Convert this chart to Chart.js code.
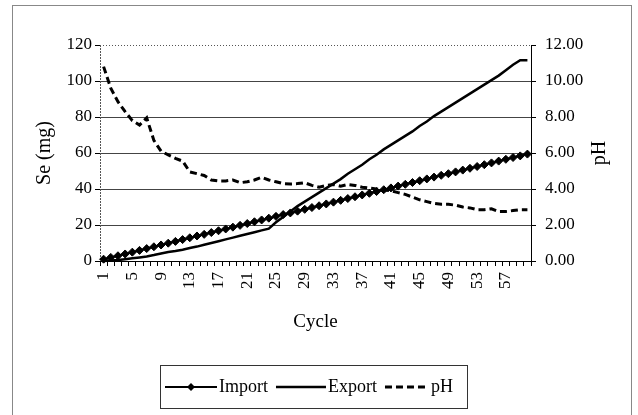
<!DOCTYPE html>
<html>
<head>
<meta charset="utf-8">
<script src="https://cdn.jsdelivr.net/npm/chart.js@4/dist/chart.umd.min.js"></script>
<style>
  html, body { margin: 0; padding: 0; background: #fff; }
  #wrap { width: 638px; height: 415px; }
</style>
</head>
<body>
<div id="wrap"><canvas id="seChart" width="638" height="415"></canvas></div>
<script>
const cycles = [1, 2, 3, 4, 5, 6, 7, 8, 9, 10, 11, 12, 13, 14, 15, 16, 17, 18, 19, 20,
    21, 22, 23, 24, 25, 26, 27, 28, 29, 30, 31, 32, 33, 34, 35, 36, 37, 38, 39, 40,
    41, 42, 43, 44, 45, 46, 47, 48, 49, 50, 51, 52, 53, 54, 55, 56, 57, 58, 59, 60];

const importSe = [1.0, 2.0, 2.9, 3.9, 4.9, 5.9, 6.9, 7.9, 8.9, 9.9,
    10.9, 11.9, 12.9, 13.9, 14.8, 15.8, 16.8, 17.8, 18.8, 19.8,
    20.8, 21.8, 22.8, 23.8, 24.8, 25.8, 26.7, 27.7, 28.7, 29.7,
    30.7, 31.7, 32.7, 33.7, 34.7, 35.7, 36.7, 37.6, 38.6, 39.6,
    40.6, 41.6, 42.6, 43.6, 44.6, 45.6, 46.6, 47.6, 48.5, 49.5,
    50.5, 51.5, 52.5, 53.5, 54.5, 55.5, 56.5, 57.5, 58.4, 59.4];

const exportSe = [0, 0.3, 0.5, 1, 1.5, 2, 2.5, 3.3, 4.2, 5,
    5.5, 6.3, 7.2, 8, 9, 10, 11, 12, 13, 14,
    15, 16, 17, 18, 21.5, 24.5, 27.5, 30.5, 33, 35.5,
    38, 40.5, 43, 45.5, 48.5, 51, 53.5, 56.5, 59, 62,
    64.5, 67, 69.5, 72, 75, 77.5, 80.5, 83, 85.5, 88,
    90.5, 93, 95.5, 98, 100.5, 103, 106, 109, 111.5, 111.5];

const phValues = [10.8, 9.6, 8.85, 8.3, 7.8, 7.55, 7.95, 6.7, 6.1, 5.9,
    5.7, 5.55, 4.95, 4.85, 4.75, 4.5, 4.45, 4.45, 4.5, 4.35,
    4.4, 4.5, 4.65, 4.5, 4.4, 4.3, 4.28, 4.3, 4.35, 4.2,
    4.1, 4.2, 4.25, 4.15, 4.25, 4.2, 4.1, 4.05, 4.0, 3.95,
    3.9, 3.8, 3.7, 3.55, 3.4, 3.3, 3.2, 3.15, 3.15, 3.1,
    3.0, 2.95, 2.85, 2.85, 2.9, 2.75, 2.75, 2.8, 2.85, 2.85];

const seTicks = [0, 20, 40, 60, 80, 100, 120];
const phTicks = [0, 2, 4, 6, 8, 10, 12];

const FONT = 'Liberation Serif';

// outer frame, dotted plot edges, right title and the boxed legend
const decorations = {
    id: 'decorations',
    beforeDraw(chart) {
        const ctx = chart.ctx;
        ctx.save();
        ctx.strokeStyle = '#888';
        ctx.lineWidth = 1;
        ctx.strokeRect(12.5, 5.5, 619, 430);
        ctx.restore();
    },
    beforeDatasetsDraw(chart) {
        const ctx = chart.ctx;
        const area = chart.chartArea;
        const top = Math.round(area.top) + 0.5;
        const left = Math.round(area.left) + 0.5;
        ctx.save();
        ctx.strokeStyle = '#555';
        ctx.lineWidth = 1;
        ctx.setLineDash([1, 2]);
        ctx.beginPath();
        ctx.moveTo(area.left, top);
        ctx.lineTo(area.right, top);
        ctx.stroke();
        ctx.setLineDash([2, 1]);
        ctx.beginPath();
        ctx.moveTo(left, area.top);
        ctx.lineTo(left, area.bottom);
        ctx.stroke();
        ctx.restore();
    },
    afterDraw(chart) {
        const ctx = chart.ctx;
        const area = chart.chartArea;
        ctx.save();
        // right axis title, reading bottom to top
        const yr = chart.scales.yR;
        ctx.fillStyle = '#000';
        ctx.font = '20px "' + FONT + '"';
        ctx.textAlign = 'center';
        ctx.textBaseline = 'middle';
        ctx.translate(yr.right - 32, (area.top + area.bottom) / 2);
        ctx.rotate(-Math.PI / 2);
        ctx.fillText('pH', 0, 0);
        ctx.restore();

        // legend
        ctx.save();
        ctx.strokeStyle = '#333';
        ctx.lineWidth = 1;
        ctx.strokeRect(160.5, 365.5, 307, 43);
        ctx.font = '18px "' + FONT + '"';
        ctx.fillStyle = '#000';
        ctx.textBaseline = 'middle';
        const ly = 387;
        const sampleWidths = [52, 50, 44];
        let x = 165;
        chart.data.datasets.forEach((ds, i) => {
            const w = sampleWidths[i];
            ctx.strokeStyle = ds.borderColor;
            ctx.lineWidth = ds.borderWidth;
            ctx.setLineDash(ds.borderDash || []);
            ctx.beginPath();
            ctx.moveTo(x, ly);
            ctx.lineTo(x + w, ly);
            ctx.stroke();
            ctx.setLineDash([]);
            if (ds.pointRadius > 0) {
                const r = ds.pointRadius;
                ctx.fillStyle = ds.pointBackgroundColor;
                ctx.beginPath();
                ctx.moveTo(x + w / 2, ly - r);
                ctx.lineTo(x + w / 2 + r, ly);
                ctx.lineTo(x + w / 2, ly + r);
                ctx.lineTo(x + w / 2 - r, ly);
                ctx.closePath();
                ctx.fill();
            }
            ctx.fillStyle = '#000';
            ctx.fillText(ds.label, x + w + 2, ly);
            x += w + 2 + ctx.measureText(ds.label).width + 8;
        });
        ctx.restore();
    }
};

function initializeChart() {
    const ctx = document.getElementById('seChart').getContext('2d');

    const data = {
        labels: cycles,
        datasets: [{
            label: 'Import',
            data: importSe,
            yAxisID: 'y',
            borderColor: '#000',
            borderWidth: 2,
            pointStyle: 'rectRot',
            pointRadius: 4,
            pointBackgroundColor: '#000',
            pointBorderColor: '#000',
            pointBorderWidth: 1,
            tension: 0,
            clip: false
        }, {
            label: 'Export',
            data: exportSe,
            yAxisID: 'y',
            borderColor: '#000',
            borderWidth: 2.5,
            pointRadius: 0,
            tension: 0,
            clip: false
        }, {
            label: 'pH',
            data: phValues,
            yAxisID: 'yR',
            borderColor: '#000',
            borderWidth: 3,
            borderDash: [7, 4],
            pointRadius: 0,
            tension: 0,
            clip: false
        }]
    };

    const config = {
        type: 'line',
        data: data,
        options: {
            responsive: false,
            animation: false,
            devicePixelRatio: 1,
            layout: {
                padding: { left: 13, right: 6, top: 45, bottom: 50 }
            },
            plugins: {
                legend: { display: false },
                tooltip: { enabled: false }
            },
            scales: {
                x: {
                    type: 'category',
                    offset: true,
                    afterFit: function (scale) { scale.height = 104; },
                    grid: {
                        offset: true,
                        drawOnChartArea: false,
                        tickLength: 5,
                        tickColor: '#000'
                    },
                    border: { color: '#000', width: 1 },
                    ticks: {
                        autoSkip: false,
                        minRotation: 90,
                        maxRotation: 90,
                        padding: 6,
                        color: '#000',
                        font: { family: FONT, size: 17 },
                        callback: function (value, index) {
                            return index % 4 === 0 ? this.getLabelForValue(value) : '';
                        }
                    },
                    title: {
                        display: true,
                        text: 'Cycle',
                        color: '#000',
                        font: { family: FONT, size: 19 },
                        padding: { top: 0, bottom: 32 }
                    }
                },
                y: {
                    position: 'left',
                    min: 0,
                    max: 120,
                    afterFit: function (scale) { scale.width = 87; },
                    afterBuildTicks: function (scale) {
                        scale.ticks = seTicks.map(v => ({ value: v }));
                    },
                    grid: {
                        color: function (c) {
                            return c.tick && (c.tick.value === 120 || c.tick.value === 0) ? 'rgba(0,0,0,0)' : '#444';
                        },
                        lineWidth: 1,
                        tickLength: 5,
                        tickColor: '#000'
                    },
                    border: { display: false },
                    ticks: {
                        padding: 3,
                        color: '#000',
                        font: { family: FONT, size: 17 }
                    },
                    title: {
                        display: true,
                        text: 'Se (mg)',
                        color: '#000',
                        font: { family: FONT, size: 20 },
                        padding: { top: 20, bottom: 0 }
                    }
                },
                yR: {
                    position: 'right',
                    min: 0,
                    max: 12,
                    afterFit: function (scale) { scale.width = 101; },
                    afterBuildTicks: function (scale) {
                        scale.ticks = phTicks.map(v => ({ value: v }));
                    },
                    grid: {
                        drawOnChartArea: false,
                        tickLength: 5,
                        tickColor: '#000'
                    },
                    border: { color: '#000', width: 1 },
                    ticks: {
                        padding: 9,
                        color: '#000',
                        font: { family: FONT, size: 17 },
                        callback: function (value) {
                            return Number(value).toFixed(2);
                        }
                    }
                }
            }
        },
        plugins: [decorations]
    };

    new Chart(ctx, config);
}

document.addEventListener('DOMContentLoaded', initializeChart);
</script>
</body>
</html>
